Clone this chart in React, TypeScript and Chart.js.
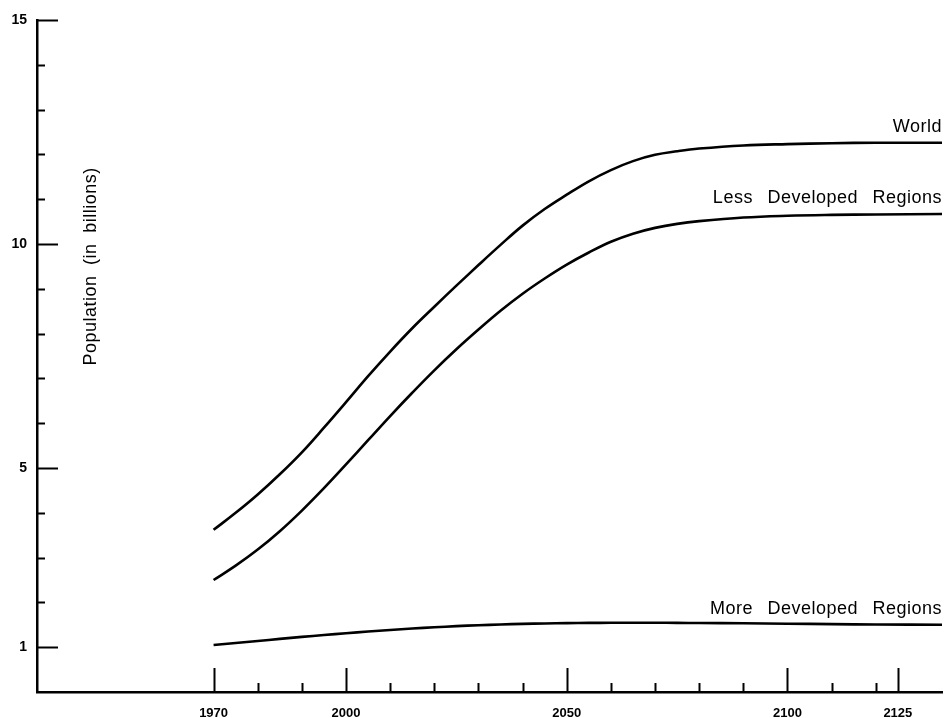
import { useEffect, useRef } from "react";
import { Chart, registerables } from "chart.js";

Chart.register(...registerables);

const years = [1970, 1975, 1980, 1985, 1990, 1995, 2000, 2005, 2010, 2015, 2020, 2025, 2030, 2035, 2040, 2045, 2050, 2055, 2060, 2065, 2070, 2075, 2080, 2090, 2100, 2110, 2120, 2135];
const world = [3.62, 4.0, 4.41, 4.86, 5.35, 5.9, 6.47, 7.05, 7.6, 8.12, 8.6, 9.07, 9.53, 9.98, 10.41, 10.78, 11.1, 11.4, 11.65, 11.85, 11.99, 12.07, 12.13, 12.2, 12.23, 12.25, 12.26, 12.26];
const lessDeveloped = [2.5, 2.82, 3.18, 3.59, 4.05, 4.55, 5.08, 5.62, 6.16, 6.68, 7.18, 7.65, 8.09, 8.51, 8.89, 9.23, 9.54, 9.81, 10.05, 10.23, 10.36, 10.45, 10.51, 10.59, 10.63, 10.65, 10.66, 10.67];
const moreDeveloped = [1.05, 1.095, 1.14, 1.185, 1.23, 1.272, 1.312, 1.35, 1.385, 1.417, 1.445, 1.47, 1.49, 1.507, 1.52, 1.53, 1.537, 1.542, 1.545, 1.546, 1.545, 1.543, 1.54, 1.533, 1.525, 1.515, 1.507, 1.5];
const seriesNames = ["World", "Less Developed Regions", "More Developed Regions"];

const xTickLabels = [1970, 2000, 2050, 2100, 2125];
const xMinorTicks = [1980, 1990, 2010, 2020, 2030, 2040, 2060, 2070, 2080, 2090, 2110, 2120];
const yTickLabels = [1, 5, 10, 15];
const yMinorTicks = [2, 3, 4, 6, 7, 8, 9, 11, 12, 13, 14];
const yTitle = "Population (in billions)";

const FONT = '"Liberation Sans", Arial, Helvetica, sans-serif';

const decorPlugin = {
  id: "decor",
  afterDatasetsDraw(chart: any) {
    const { ctx, chartArea, scales } = chart;
    const xs = scales.x;
    const ys = scales.y;
    ctx.save();
    ctx.strokeStyle = "#000";
    ctx.lineWidth = 2;
    ctx.lineCap = "butt";
    const yl = chartArea.left;
    yTickLabels.forEach((v) => {
      const p = Math.round(ys.getPixelForValue(v)) + 0.5;
      ctx.beginPath();
      ctx.moveTo(yl, p);
      ctx.lineTo(yl + 21, p);
      ctx.stroke();
    });
    yMinorTicks.forEach((v) => {
      const p = Math.round(ys.getPixelForValue(v)) + 0.5;
      ctx.beginPath();
      ctx.moveTo(yl, p);
      ctx.lineTo(yl + 8, p);
      ctx.stroke();
    });
    const xb = chartArea.bottom;
    xTickLabels.forEach((v) => {
      const p = Math.round(xs.getPixelForValue(v)) + 0.5;
      ctx.beginPath();
      ctx.moveTo(p, xb);
      ctx.lineTo(p, xb - 24);
      ctx.stroke();
    });
    xMinorTicks.forEach((v) => {
      const p = Math.round(xs.getPixelForValue(v)) + 0.5;
      ctx.beginPath();
      ctx.moveTo(p, xb);
      ctx.lineTo(p, xb - 9);
      ctx.stroke();
    });

    ctx.fillStyle = "#000";
    ctx.font = `18px ${FONT}`;
    ctx.textAlign = "right";
    ctx.textBaseline = "alphabetic";
    (ctx as any).letterSpacing = "0.5px";
    (ctx as any).wordSpacing = "9px";
    const lastIdx = years.length - 1;
    const series = [world, lessDeveloped, moreDeveloped];
    series.forEach((s, i) => {
      const x = xs.getPixelForValue(years[lastIdx]);
      const y = ys.getPixelForValue(s[lastIdx]) - 11;
      ctx.fillText(seriesNames[i], x, y);
    });

    ctx.translate(chartArea.left + 54, ys.getPixelForValue(9.5));
    ctx.rotate(-Math.PI / 2);
    ctx.textAlign = "center";
    ctx.textBaseline = "middle";
    (ctx as any).wordSpacing = "5px";
    ctx.fillText(yTitle, 0, 0);
    ctx.restore();
  },
};

export default function App() {
  const ref = useRef<HTMLCanvasElement | null>(null);
  useEffect(() => {
    if (!ref.current) return;
    const mk = (vals: number[]) => years.map((x, i) => ({ x, y: vals[i] }));
    const ds = (label: string, vals: number[]) => ({
      label,
      data: mk(vals),
      borderColor: "#000",
      borderWidth: 2.6,
      pointRadius: 0,
      fill: false,
      tension: 0.4,
    });
    const chart = new Chart(ref.current, {
      type: "line",
      data: {
        datasets: [
          ds(seriesNames[0], world),
          ds(seriesNames[1], lessDeveloped),
          ds(seriesNames[2], moreDeveloped),
        ],
      },
      options: {
        animation: false,
        responsive: false,
        devicePixelRatio: 1,
        layout: { padding: { top: 20, right: 6, left: 0, bottom: 0 } },
        plugins: {
          legend: { display: false },
          tooltip: { enabled: false },
        },
        scales: {
          x: {
            type: "linear",
            min: 1930,
            max: 2135,
            grid: { display: false, drawTicks: false },
            border: { display: true, color: "#000", width: 2.5 },
            ticks: {
              color: "#000",
              font: { family: FONT, size: 13, weight: "bold" },
              padding: 14,
              autoSkip: false,
              maxRotation: 0,
              callback: (v: any) => String(v),
            },
            afterBuildTicks: (s: any) => {
              s.ticks = xTickLabels.map((v) => ({ value: v }));
            },
            afterFit: (s: any) => {
              s.height = 26;
            },
          },
          y: {
            type: "linear",
            min: 0,
            max: 15,
            grid: { display: false, drawTicks: false },
            border: { display: true, color: "#000", width: 2.5 },
            ticks: {
              color: "#000",
              font: { family: FONT, size: 14, weight: "bold" },
              padding: 10,
              autoSkip: false,
              callback: (v: any) => String(v),
            },
            afterBuildTicks: (s: any) => {
              s.ticks = yTickLabels.map((v) => ({ value: v }));
            },
            afterFit: (s: any) => {
              s.width = 37;
            },
          },
        },
      },
      plugins: [decorPlugin],
    });
    return () => chart.destroy();
  }, []);
  return (
    <div style={{ position: "absolute", left: 0, top: 0, width: 948, height: 718, background: "#fff" }}>
      <canvas ref={ref} width={948} height={718} style={{ display: "block" }} />
    </div>
  );
}
